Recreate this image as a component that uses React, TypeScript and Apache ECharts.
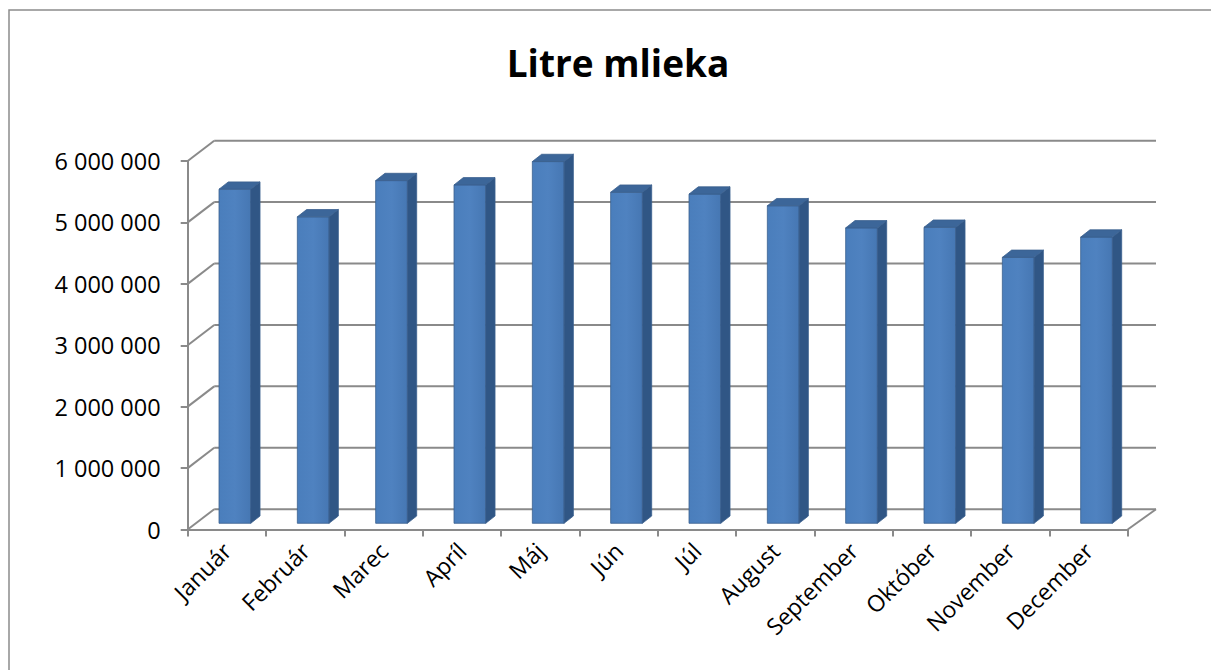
import React, { useEffect, useRef } from "react";
import * as echarts from "echarts";

const months = ["Január", "Február", "Marec", "Apríl", "Máj", "Jún", "Júl", "August", "September", "Október", "November", "December"];
const litres = [5440000, 4990000, 5580000, 5510000, 5890000, 5390000, 5360000, 5170000, 4810000, 4820000, 4330000, 4660000];
const yTicks = [0, 1000000, 2000000, 3000000, 4000000, 5000000, 6000000];
const titleText = "Litre mlieka";

const fmt = (v: number) => String(v).replace(/\B(?=(\d{3})+(?!\d))/g, " ");

export default function App() {
  const ref = useRef<HTMLDivElement>(null);
  useEffect(() => {
    const chart = echarts.init(ref.current!, null, { renderer: "svg" });
    const GRID = "#8a8a8a";
    const DLX = 26.5, DRX = 28.3, DY = -20.3;
    chart.setOption({
      animation: false,
      backgroundColor: "#ffffff",
      title: {
        text: titleText,
        left: 613,
        textAlign: "center",
        top: 39,
        textStyle: { fontFamily: "Open Sans", fontWeight: "bold", fontSize: 37, color: "#000" },
      },
      graphic: [
        {
          type: "rect",
          shape: { x: 9, y: 10, width: 1300, height: 800 },
          style: { fill: "none", stroke: "#8c8c8c", lineWidth: 1.5 },
          silent: true,
          z: -10,
        },
      ],
      grid: { left: 187.7, right: 83.3, top: 161, bottom: 140.5, containLabel: false },
      xAxis: {
        type: "category",
        data: months,
        axisLine: { show: true, lineStyle: { color: GRID, width: 2 } },
        axisTick: { show: true, length: 7, lineStyle: { color: GRID, width: 2 } },
        axisLabel: { rotate: 45, margin: 17, fontFamily: "Open Sans", fontSize: 23, color: "#000", interval: 0 },
        splitLine: { show: false },
      },
      yAxis: {
        type: "value",
        min: 0,
        max: 6000000,
        interval: 1000000,
        axisLine: { show: true, lineStyle: { color: GRID, width: 2 } },
        axisTick: { show: true, length: 7, lineStyle: { color: GRID, width: 2 } },
        axisLabel: { margin: 27, fontFamily: "Open Sans", fontSize: 23.5, color: "#000", formatter: (v: number) => fmt(v) },
        splitLine: { show: false },
      },
      series: [
        {
          type: "custom",
          z: 1,
          silent: true,
          data: yTicks.map((v) => [0, v]),
          encode: { x: 0, y: 1 },
          renderItem: (params: any, api: any) => {
            const cs = params.coordSys;
            const v = api.value(1);
            const y = api.coord([0, v])[1];
            const x0 = cs.x, x1 = cs.x + cs.width;
            const children: any[] = [
              { type: "line", shape: { x1: x0, y1: y, x2: x0 + DLX, y2: y + DY }, style: { stroke: GRID, lineWidth: 2 } },
              { type: "line", shape: { x1: x0 + DLX, y1: y + DY, x2: x1 + DRX, y2: y + DY }, style: { stroke: GRID, lineWidth: 2 } },
            ];
            if (v === 0) {
              children.push({ type: "line", shape: { x1: x1, y1: y, x2: x1 + DRX, y2: y + DY }, style: { stroke: GRID, lineWidth: 2 } });
            }
            return { type: "group", children };
          },
        },
        {
          type: "custom",
          z: 5,
          data: litres.map((v, i) => [i, v]),
          encode: { x: 0, y: 1 },
          renderItem: (params: any, api: any) => {
            const i = api.value(0);
            const v = api.value(1);
            const top = api.coord([i, v]);
            const base = api.coord([i, 0]);
            const bw = api.size([1, 0])[0] * 0.405;
            const ox = 8, oy = -6.2, dx = 9.3, dy = -7.3;
            const x = top[0] - bw / 2 + ox;
            const y = top[1] + oy;
            const h = base[1] - top[1];
            const edge = { stroke: "#3a5f8e", lineWidth: 0.8 };
            return {
              type: "group",
              children: [
                {
                  type: "rect",
                  shape: { x, y, width: bw, height: h },
                  style: {
                    fill: new echarts.graphic.LinearGradient(0, 0, 1, 0, [
                      { offset: 0, color: "#4a7ebc" },
                      { offset: 0.5, color: "#4f82c0" },
                      { offset: 1, color: "#4677b3" },
                    ]),
                    ...edge,
                  },
                },
                {
                  type: "polygon",
                  shape: { points: [[x + bw, y], [x + bw + dx, y + dy], [x + bw + dx, y + h + dy], [x + bw, y + h]] },
                  style: { fill: "#305685", ...edge },
                },
                {
                  type: "polygon",
                  shape: { points: [[x, y], [x + dx, y + dy], [x + bw + dx, y + dy], [x + bw, y]] },
                  style: { fill: "#3c6699", ...edge },
                },
              ],
            };
          },
        },
      ],
    });
    return () => chart.dispose();
  }, []);
  return <div ref={ref} style={{ position: "fixed", left: 0, top: 0, width: 1211, height: 670 }} />;
}
